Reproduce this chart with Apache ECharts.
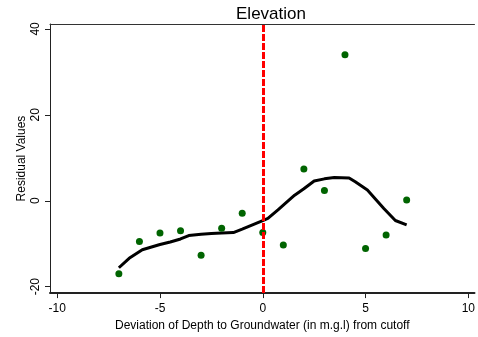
<!DOCTYPE html>
<html>
<head>
<meta charset="utf-8">
<script src="https://cdn.jsdelivr.net/npm/echarts@6/dist/echarts.min.js"></script>
<style>
html,body{margin:0;padding:0;background:#fff;}
#container{width:478px;height:337px;}
</style>
</head>
<body>
<div id="container"></div>
<script>
// scatter points (residuals)
var pointX = [-7, -6, -5, -4, -3, -2, -1, 0, 1, 2, 3, 4, 5, 6, 7];
var pointY = [-17, -9.5, -7.5, -7.0, -12.7, -6.4, -2.9, -7.4, -10.3, 7.4, 2.4, 34, -11.1, -8.0, 0.15];
// smoothed line
var lineX = [-7, -6.5, -5.86, -5, -4.5, -4, -3.6, -3, -2.5, -2, -1.43, -1, -0.5, 0, 0.25, 0.74, 1, 1.55, 2, 2.5, 3, 3.48, 4.2, 4.5, 5.09, 5.5, 5.89, 6.45, 7];
var lineY = [-15.6, -13.4, -11.4, -10.2, -9.6, -8.9, -8.1, -7.8, -7.6, -7.5, -7.4, -6.6, -5.6, -4.6, -4.1, -2.1, -1.0, 1.3, 2.8, 4.6, 5.1, 5.4, 5.3, 4.4, 2.5, 0.3, -1.8, -4.6, -5.6];
var xTicks = [-10, -5, 0, 5, 10];
var yTicks = [-20, 0, 20, 40];
var cutoff = 0;

var fontFam = 'Liberation Sans, Arial, sans-serif';
function pairs(xs, ys){
	var out = [];
	for (var i = 0; i < xs.length; i++){ out.push([xs[i], ys[i]]); }
	return out;
}

var option = {
	animation: false,
	backgroundColor: '#fff',
	title: {
		text: 'Elevation',
		left: 266, top: 1, textAlign: 'center',
		textStyle: {fontFamily: fontFam, fontSize: 17, fontWeight: 'normal', color: '#000'}
	},
	grid: {left: 50, top: 24, right: 0, bottom: 40},
	xAxis: [{
		type: 'value', min: -10.35, max: 10.3,
		name: 'Deviation of Depth to Groundwater (in m.g.l) from cutoff',
		nameLocation: 'middle', nameGap: 23,
		nameTextStyle: {fontFamily: fontFam, fontSize: 12, color: '#000'},
		splitLine: {show: false},
		axisLine: {onZero: false, lineStyle: {color: '#222', width: 2}},
		axisTick: {length: 5, customValues: xTicks, lineStyle: {color: '#222'}},
		axisLabel: {customValues: xTicks, fontFamily: fontFam, fontSize: 12, color: '#000', margin: 10}
	}, {
		type: 'value', position: 'top', min: -10.35, max: 10.3,
		splitLine: {show: false},
		axisLine: {onZero: false, lineStyle: {color: '#333', width: 1}},
		axisTick: {show: false}, axisLabel: {show: false}
	}],
	yAxis: {
		type: 'value', min: -21.5, max: 41.15,
		name: 'Residual Values',
		nameLocation: 'middle', nameGap: 22, nameMoveOverlap: false,
		nameTextStyle: {fontFamily: fontFam, fontSize: 12, color: '#000'},
		splitLine: {show: false},
		axisLine: {show: true, onZero: false, lineStyle: {color: '#222', width: 1}},
		axisTick: {show: true, length: 5, customValues: yTicks, lineStyle: {color: '#222'}},
		axisLabel: {customValues: yTicks, rotate: 90, fontFamily: fontFam, fontSize: 12, color: '#000', margin: 8}
	},
	series: [{
		type: 'line',
		data: pairs(lineX, lineY),
		symbol: 'none',
		smooth: false,
		lineStyle: {color: '#000', width: 3},
		z: 3
	}, {
		type: 'scatter',
		data: pairs(pointX, pointY),
		symbolSize: 7,
		itemStyle: {color: '#006400', opacity: 1},
		z: 4,
		markLine: {
			silent: true, symbol: 'none', label: {show: false},
			lineStyle: {color: '#ff0000', width: 3, type: [7, 2]},
			data: [{xAxis: cutoff}]
		}
	}]
};

var myChart = echarts.init(document.getElementById('container'));
myChart.setOption(option, true);
</script>
</body>
</html>
